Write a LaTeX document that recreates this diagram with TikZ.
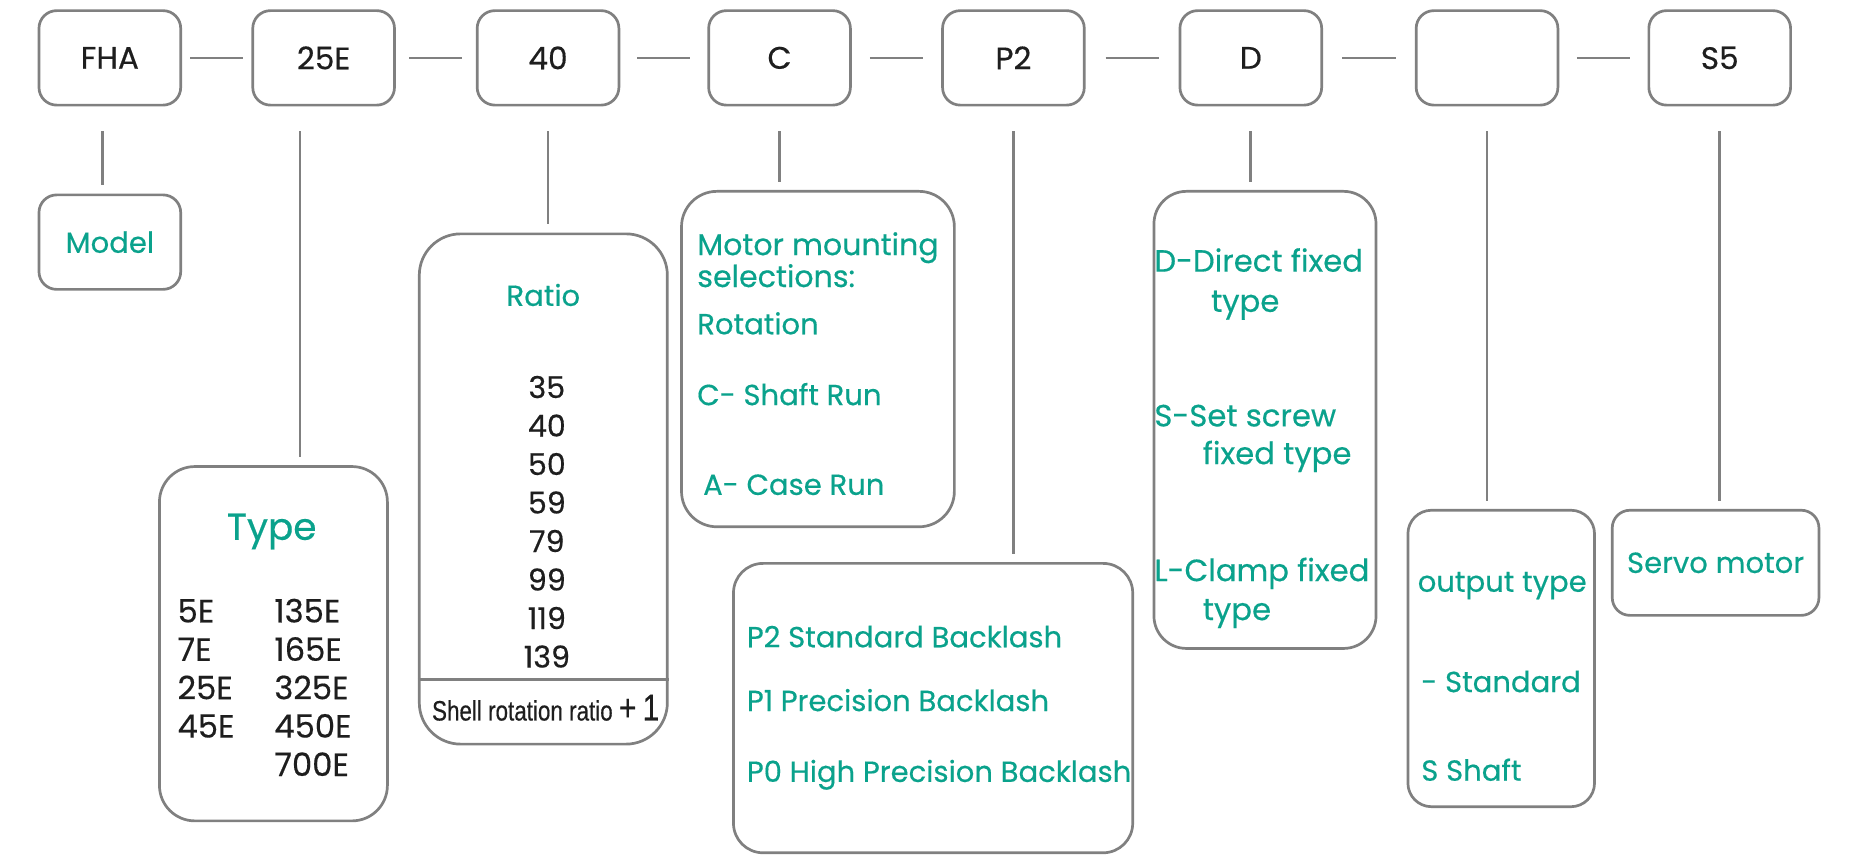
\documentclass[tikz,border=0pt]{standalone}
\usepackage{fontspec}
\setmainfont{Poppins}[FakeBold=0.4]
\newfontfamily\narrowfont[FakeStretch=0.8, FakeBold=0.4]{Liberation Sans}
\usetikzlibrary{positioning, calc}
\definecolor{labelteal}{RGB}{10,162,140}
\definecolor{framegray}{RGB}{128,128,128}
\definecolor{codeblack}{RGB}{30,30,30}

\begin{document}
\begin{tikzpicture}[
    x=0.2mm, y=-0.2mm,
    box/.style={draw=framegray, line width=1.3pt, rounded corners=3mm, fill=white},
    code/.style={box, minimum width=24mm, minimum height=16mm, text=codeblack, font=\fontsize{15}{17}\selectfont},
    info/.style={text=labelteal, font=\fontsize{14}{17}\selectfont, inner sep=0pt},
    num/.style={text=codeblack, font=\fontsize{14.5}{16}\selectfont, inner sep=0pt},
    link/.style={draw=framegray, line width=1.3pt},
]
    \fill[white] (0,0) rectangle (1568,724);
    \useasboundingbox (0,0) rectangle (1568,724);

    % code row
    \node[code] (fha) at (93,49) {FHA};
    \node[code] (ser) at (274,49) {25E};
    \node[code] (rat) at (464,49) {40};
    \node[code] (mnt) at (660,49) {C};
    \node[code] (bkl) at (858,49) {P2};
    \node[code] (fix) at (1059,49) {D};
    \node[code] (out) at (1259,49) {};
    \node[code] (mot) at (1456,49) {S5};
    \foreach \a/\b in {fha/ser, ser/rat, rat/mnt, mnt/bkl, bkl/fix, fix/out, out/mot}
        \draw[link] ($(\a.east)!.5!(\b.west)+(-22.5,0)$) -- ($(\a.east)!.5!(\b.west)+(22.5,0)$);

    % explanation boxes
    \node[box, minimum width=24mm, minimum height=16mm, info, inner sep=0pt] (model) at (93,205) {Model};
    \node[box, minimum width=38.6mm, minimum height=60mm, rounded corners=6mm] (type) at (231.5,545) {};
    \node[box, minimum width=42mm, minimum height=86.4mm, rounded corners=7mm] (ratio) at (460,414) {};
    \node[box, minimum width=46.2mm, minimum height=56.8mm, rounded corners=6mm] (mount) at (692.5,304) {};
    \node[box, minimum width=67.6mm, minimum height=49mm, rounded corners=5mm] (backlash) at (790,599.5) {};
    \node[box, minimum width=37.6mm, minimum height=77.4mm, rounded corners=5.5mm] (fixing) at (1071,355.5) {};
    \node[box, minimum width=31.6mm, minimum height=50.2mm, rounded corners=4mm] (output) at (1271,557.5) {};
    \node[box, minimum width=35mm, minimum height=17.8mm, info, inner sep=0pt] (servo) at (1452.5,476.5) {Servo motor};

    % drop lines
    \coordinate (fhadrop) at ([xshift=-1.3mm]fha.south);
    \coordinate (serdrop) at ([xshift=-4mm]ser.south);
    \draw[link, shorten <=4.2mm, shorten >=1.4mm] (fhadrop) -- (fhadrop |- model.north);
    \draw[link, shorten <=4.2mm, shorten >=1.4mm] (serdrop) -- (serdrop |- type.north);
    \foreach \a/\b in {rat/ratio, mnt/mount, bkl/backlash, fix/fixing, out/output, mot/servo}
        \draw[link, shorten <=4.2mm, shorten >=1.4mm] (\a.south) -- (\a.south |- \b.north);

    % type
    \node[info, anchor=base, font=\fontsize{18}{20}\selectfont] (typehead) at (230,457) {Type};
    \foreach \lft/\rgt [count=\i from 0] in {5E/135E, 7E/165E, 25E/325E, 45E/450E, /700E} {
        \node[num, anchor=base west, font=\fontsize{15.5}{17}\selectfont] (tl\i) at (150,{527+32.5*\i}) {\lft};
        \node[num, anchor=base west, font=\fontsize{15.5}{17}\selectfont] (tr\i) at (232,{527+32.5*\i}) {\rgt};
    }

    % ratio
    \node[info, anchor=base] (ratiohead) at (460,259) {Ratio};
    \foreach \val [count=\i from 0] in {35,40,50,59,79,99,119,139}
        \node[num, anchor=base] (r\i) at (463,{337+32.6*\i}) {\val};
    \draw[link] (ratio.west |- 0,575) -- (ratio.east |- 0,575);
    \node[num, anchor=base, font=\narrowfont\fontsize{13.5}{15}\selectfont] (shell) at (462,610)
        {Shell rotation ratio {\fontsize{18}{18}\selectfont+\,1}};

    % mounting
    \node[info, anchor=base west, font=\fontsize{14.5}{15}\selectfont] (mt1) at (590,216) {Motor mounting};
    \node[info, anchor=base west, font=\fontsize{14.5}{15}\selectfont] (mt2) at (590,243) {selections:};
    \node[info, anchor=base west] (mt3) at (590,283) {Rotation};
    \node[info, anchor=base west] (mt4) at (590,343) {C- Shaft Run};
    \node[info, anchor=base west] (mt5) at (595,419) {A- Case Run};

    % backlash
    \node[info, anchor=base west] (bk1) at (632,548) {P2 Standard Backlash};
    \node[info, anchor=base west] (bk2) at (632,602) {P1 Precision Backlash};
    \node[info, anchor=base west] (bk3) at (632,662) {P0 High Precision Backlash};

    % fixing
    \node[info, anchor=base west, font=\fontsize{14.8}{17}\selectfont] (fx1) at (977,230) {D-Direct fixed};
    \node[info, anchor=base west, font=\fontsize{14.8}{17}\selectfont] (fx2) at (1025,264) {type};
    \node[info, anchor=base west, font=\fontsize{14.8}{17}\selectfont] (fx3) at (977,361) {S-Set screw};
    \node[info, anchor=base west, font=\fontsize{14.8}{17}\selectfont] (fx4) at (1018,393) {fixed type};
    \node[info, anchor=base west, font=\fontsize{14.8}{17}\selectfont] (fx5) at (977,492) {L-Clamp fixed};
    \node[info, anchor=base west, font=\fontsize{14.8}{17}\selectfont] (fx6) at (1018,525) {type};

    % output
    \node[info, anchor=base west] (ot1) at (1200,501) {output type};
    \node[info, anchor=base west] (ot2) at (1203,586) {- Standard};
    \node[info, anchor=base west] (ot3) at (1203,661) {S Shaft};
\end{tikzpicture}
\end{document}
